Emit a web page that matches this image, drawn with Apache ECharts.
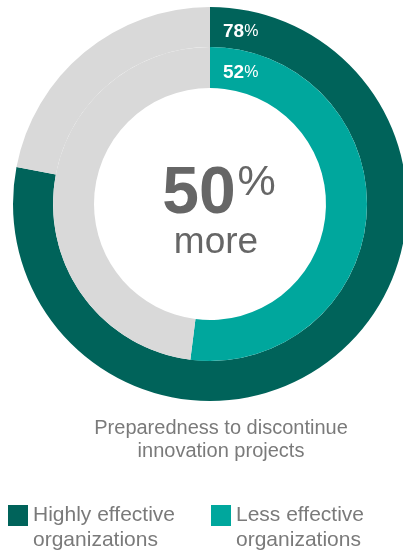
<!DOCTYPE html>
<html>
<head>
<meta charset="utf-8">
<script src="https://cdn.jsdelivr.net/npm/echarts@6/dist/echarts.min.js"></script>
<style>
html,body{margin:0;padding:0;background:#fff;}
#chart{width:403px;height:553px;}
</style>
</head>
<body>
<div id="chart"></div>
<script>
// ---- data ----
const categories = ['Highly effective organizations', 'Less effective organizations'];
const shares = [78, 52];            // percent prepared
const highlightValue = 50;          // "50% more"
const highlightWord = 'more';
const chartTitle = 'Preparedness to discontinue\ninnovation projects';

// ---- styling ----
const FONT = '"Liberation Sans", Arial, Helvetica, sans-serif';
const colors = ['#00635a', '#00a79d'];
const restColor = '#d9d9d9';
const CX = 210, CY = 204;
const rings = [[157, 197], [116, 157]];

const series = categories.map((name, i) => ({
  type: 'pie',
  silent: true,
  center: [CX, CY],
  radius: rings[i],
  startAngle: 90,
  clockwise: true,
  label: { show: false },
  labelLine: { show: false },
  emphasis: { disabled: true },
  itemStyle: { borderWidth: 0 },
  data: [
    { name: name, value: shares[i], itemStyle: { color: colors[i] } },
    { name: 'rest ' + i, value: 100 - shares[i], itemStyle: { color: restColor } }
  ]
}));

const pctRich = {
  b: { fontFamily: FONT, fontSize: 19, fontWeight: 'bold', fill: '#ffffff' },
  p: { fontFamily: FONT, fontSize: 16, fill: '#ffffff' }
};

const option = {
  backgroundColor: '#ffffff',
  animation: false,
  title: [{
    text: chartTitle,
    left: 216,
    top: 412,
    textAlign: 'center',
    textStyle: { fontFamily: FONT, fontSize: 20, fontWeight: 'normal', color: '#7a7a7a', lineHeight: 23, align: 'center' }
  }],
  legend: categories.map((name, i) => ({
    data: [name],
    left: [8, 211][i],
    top: 478,
    padding: 0,
    orient: 'horizontal',
    icon: 'rect',
    itemWidth: 20,
    itemHeight: 21,
    itemGap: 0,
    selectedMode: false,
    formatter: n => '\n' + n.replace(' organizations', '\norganizations'),
    textStyle: { fontFamily: FONT, fontSize: 21, color: '#7a7a7a', lineHeight: 25 }
  })),
  graphic: [
    ...shares.map((v, i) => ({
      type: 'text',
      x: 223,
      y: [32, 73][i],
      z: 100,
      silent: true,
      style: {
        text: '{b|' + v + '}{p|%}',
        rich: pctRich,
        verticalAlign: 'middle',
        align: 'left'
      }
    })),
    {
      type: 'text',
      x: 219,
      y: 195,
      z: 100,
      silent: true,
      style: {
        text: '{b|' + highlightValue + '}{p|%}',
        align: 'center',
        verticalAlign: 'middle',
        rich: {
          b: { fontFamily: FONT, fontSize: 66, fontWeight: 'bold', fill: '#666666', lineHeight: 66 },
          p: { fontFamily: FONT, fontSize: 43, fill: '#666666', lineHeight: 66, verticalAlign: 'top', padding: [0, 0, 0, 2] }
        }
      }
    },
    {
      type: 'text',
      x: 216,
      y: 243,
      z: 100,
      silent: true,
      style: {
        text: highlightWord,
        fontFamily: FONT, fontSize: 37, fill: '#666666',
        align: 'center', verticalAlign: 'middle'
      }
    }
  ],
  series: series
};

const chart = echarts.init(document.getElementById('chart'), null, { renderer: 'canvas' });
chart.setOption(option);
</script>
</body>
</html>
